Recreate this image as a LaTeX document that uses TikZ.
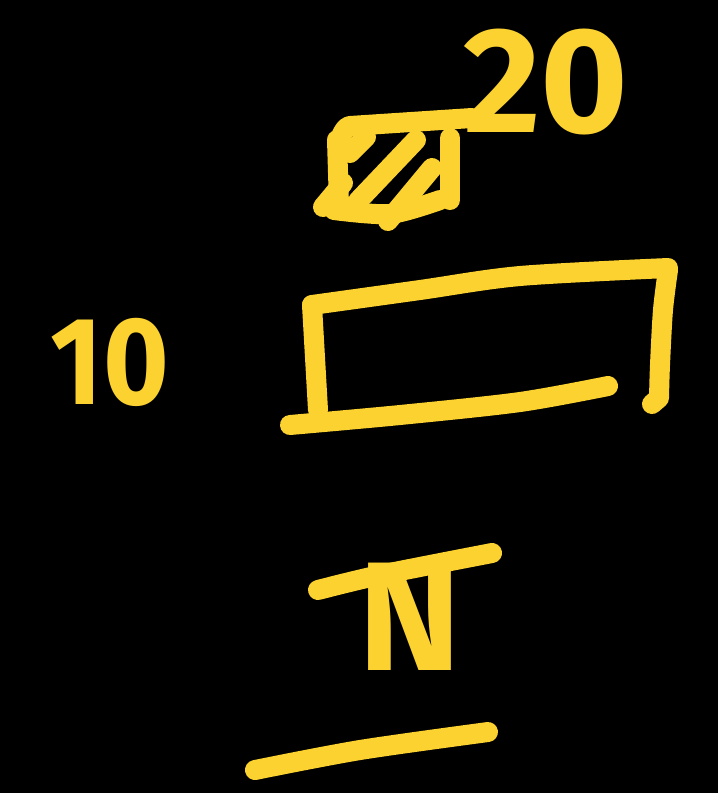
\documentclass[tikz,border=0pt]{standalone}
\usepackage{fontspec}
\setmainfont{Fira Sans}
\usepackage{xcolor}
\definecolor{penyellow}{RGB}{252,210,48}

\tikzset{
    pen/.style={penyellow, line width=20pt, line cap=round, line join=round},
    hand/.style={penyellow, font=\fontsize{#1}{#1}\bfseries\selectfont, inner sep=0pt},
    hand/.default=140
}

\begin{document}
\begin{tikzpicture}[x=1pt, y=-1pt]
    \fill[black] (0,0) rectangle (718,793);
    \useasboundingbox (0,0) rectangle (718,793);

    % Small hatched square
    \draw[pen] (339,205) -- (337,140) to[out=-80,in=180] (350,126) -- (472,118);
    \draw[pen] (450,138) -- (450,200);
    \draw[pen] plot[smooth] coordinates {(334,210) (390,214) (440,200)};
    \draw[pen] (323,207) -- (343,183);
    \draw[pen] (350,153) -- (366,137);
    \draw[pen] (358,201) -- (416,140);
    \draw[pen] (388,221) -- (432,168);

    % Label of the small square
    \node[hand=150] (twenty) at (546,82) {20};

    % Large rectangle
    \draw[pen] (318,410) -- (312,305);
    \draw[pen] plot[smooth] coordinates {(312,305) (420,290) (520,276) (668,268)};
    \draw[pen] plot[smooth] coordinates {(668,270) (663,310) (660,365) (659,398)} -- (652,404);
    \draw[pen] plot[smooth] coordinates {(290,425) (400,415) (520,402) (608,386)};

    % Label of the large rectangle
    \node[hand=125, xscale=0.9] (ten) at (110,362) {10};

    % Barred N and the line beneath it
    \draw[pen] plot[smooth] coordinates {(318,590) (380,575) (492,553)};
    \node[hand=155] (nbar) at (410,617) {N};
    \draw[pen] plot[smooth] coordinates {(255,770) (360,750) (488,732)};
\end{tikzpicture}
\end{document}
